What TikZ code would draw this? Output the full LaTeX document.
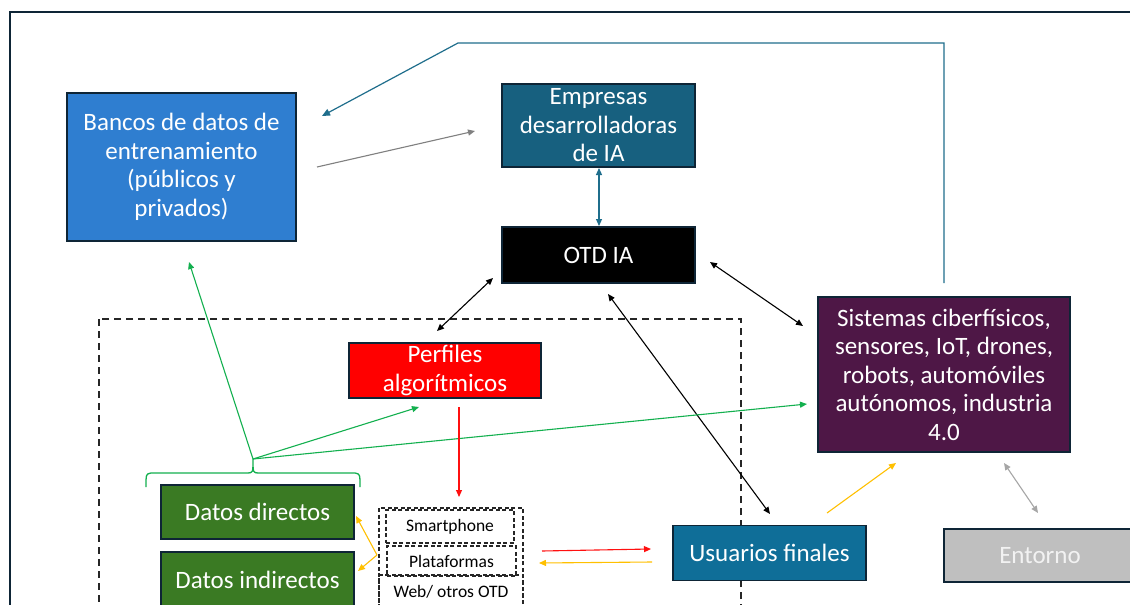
\documentclass[tikz,border=0pt]{standalone}
\usepackage{fontspec}
\setmainfont{Carlito}
\usetikzlibrary{arrows.meta}
\definecolor{navy}{HTML}{0E2536}
\definecolor{cBancos}{HTML}{2F7ED0}
\definecolor{cEmpresas}{HTML}{17607F}
\definecolor{cSis}{HTML}{4E1746}
\definecolor{cDatos}{HTML}{3A7A23}
\definecolor{cUsu}{HTML}{0F6E98}
\definecolor{cEnt}{HTML}{BFBFBF}
\definecolor{cTeal}{HTML}{1F6E8C}
\definecolor{cGreen}{HTML}{13B04F}
\definecolor{cOrange}{HTML}{FFC000}
\definecolor{cRed}{HTML}{FF1010}
\begin{document}
\begin{tikzpicture}[x=1pt,y=-1pt,
  box/.style={draw=navy, line width=1.5pt, text=white, align=center, inner sep=0pt,
    font=\fontsize{25}{28.5}\selectfont},
  dbox/.style={draw=black!85, dash pattern=on 4pt off 2.5pt, line width=1.2pt, align=center,
    inner sep=0pt, font=\fontsize{17.5}{20}\selectfont, text=black},
  arr/.style={-{Triangle[length=7pt,width=6pt]}, line width=1.1pt},
  darr/.style={{Triangle[length=7pt,width=6pt]}-{Triangle[length=7pt,width=6pt]}, line width=1.1pt}
]
\useasboundingbox (0,0) rectangle (1130,605);
\begin{scope}
\clip (0,0) rectangle (1130,605);
\fill[white] (0,0) rectangle (1130,605);
% outer frame
\draw[navy, line width=2.5pt] (10,12) rectangle (1170,650);
% big dashed area
\draw[black!85, line width=1.5pt, dash pattern=on 7pt off 5pt] (99,319) rectangle (741,660);

% nodes
\node[box, fill=cBancos, minimum width=229pt, minimum height=148pt] (bancos) at (181.5,167) {Bancos de datos de\\entrenamiento\\(públicos y\\privados)};
\node[box, fill=cEmpresas, minimum width=193pt, minimum height=83pt] (empresas) at (598.5,125.5) {Empresas\\desarrolladoras\\de IA};
\node[box, fill=black, minimum width=193pt, minimum height=56pt] (otd) at (598.5,255) {OTD IA};
\node[box, fill=cSis, minimum width=252pt, minimum height=155pt] (sis) at (944,374.5) {Sistemas ciberfísicos,\\sensores, IoT, drones,\\robots, automóviles\\autónomos, industria\\4.0};
\node[box, fill=red, minimum width=192pt, minimum height=55pt] (perf) at (445,370.5) {Perfiles\\algorítmicos};
\node[box, fill=cDatos, minimum width=193pt, minimum height=54pt] (dd) at (257.5,512) {Datos directos};
\node[box, fill=cDatos, minimum width=193pt, minimum height=56pt] (di) at (257.5,580) {Datos indirectos};
\node[box, fill=cUsu, minimum width=193pt, minimum height=55pt] (usu) at (769.5,553) {Usuarios finales};
\node[box, fill=cEnt, text=white!95!black, minimum width=192pt, minimum height=53pt] (ent) at (1040,555.5) {Entorno};

% device boxes
\draw[black!85, dash pattern=on 4pt off 2.5pt, line width=1.2pt] (379,508) rectangle (523,640);
\node[dbox, minimum width=128pt, minimum height=33pt] (smart) at (450,526.5) {Smartphone};
\node[dbox, minimum width=129pt, minimum height=30pt] (plat) at (451.5,561) {Plataformas};
\node[dbox, minimum width=144pt, minimum height=34pt] (web) at (451,592) {Web/ otros OTD};

% coordinates for connector ends
\coordinate (tealA) at (944,283);
\coordinate (tealB) at (944,43);
\coordinate (tealC) at (458,43);
\coordinate (tealD) at (322,116);
\coordinate (grayA) at (317,167);
\coordinate (grayB) at (475,131);
\coordinate (eoA) at (599,168);
\coordinate (eoB) at (599,226);
\coordinate (opA) at (493,278);
\coordinate (opB) at (437,331);
\coordinate (osA) at (710,262);
\coordinate (osB) at (803,326);
\coordinate (ouA) at (608,294);
\coordinate (ouB) at (770,514);
\coordinate (brace) at (253,459);
\coordinate (gB) at (189,262);
\coordinate (gP) at (419,407);
\coordinate (gS) at (807,404);
\coordinate (rA) at (459,407);
\coordinate (rB) at (459,497);
\coordinate (rpA) at (542,551);
\coordinate (rpB) at (651,549);
\coordinate (opu) at (652,562);
\coordinate (opl) at (539,563);
\coordinate (oJ) at (377,555);
\coordinate (oDD) at (356,516);
\coordinate (oDI) at (358,571);
\coordinate (usA) at (827,513);
\coordinate (usB) at (896,463);
\coordinate (seA) at (1004,463);
\coordinate (seB) at (1038,513);

% teal connectors
\draw[cTeal, line width=1.2pt, -{Triangle[length=8pt,width=7pt]}] (tealA) -- (tealB) -- (tealC) -- (tealD);
\draw[cTeal, darr] (eoA) -- (eoB);
% gray
\draw[gray, arr] (grayA) -- (grayB);
\draw[black!35, darr] (seA) -- (seB);
% black
\draw[black, darr] (opA) -- (opB);
\draw[black, darr] (osA) -- (osB);
\draw[black, darr] (ouA) -- (ouB);
% green brace and lines
\draw[cGreen, line width=1.3pt] (146,487) .. controls (146,474) .. (151,473) -- (247,473) .. controls (253,473) .. (brace)
  .. controls (253,473) .. (259,473) -- (355,473) .. controls (360,474) .. (360,487);
\draw[cGreen, arr] (brace) -- (gB);
\draw[cGreen, arr] (brace) -- (gP);
\draw[cGreen, arr] (brace) -- (gS);
% red
\draw[cRed, arr] (rA) -- (rB);
\draw[cRed, arr] (rpA) -- (rpB);
% orange
\draw[cOrange, arr] (opu) -- (opl);
\draw[cOrange, arr] (oJ) -- (oDD);
\draw[cOrange, arr] (oJ) -- (oDI);
\draw[cOrange, arr] (usA) -- (usB);
\end{scope}
\end{tikzpicture}
\end{document}
